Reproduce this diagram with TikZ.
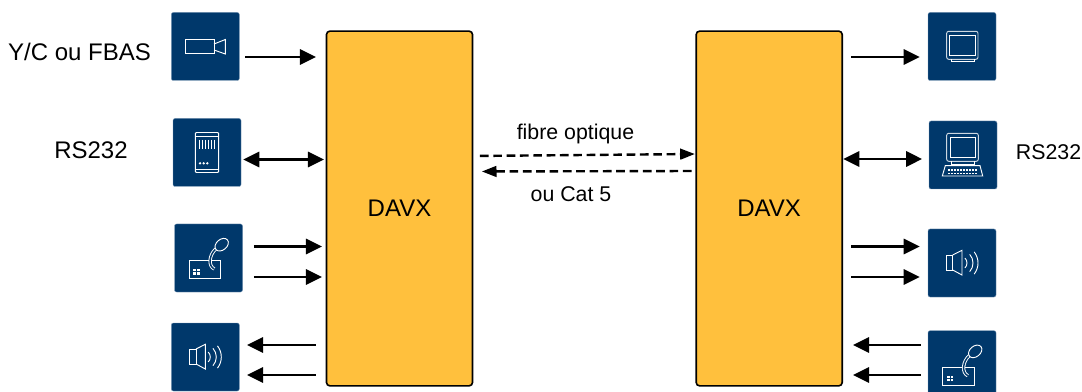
\documentclass[tikz,border=0pt]{standalone}
\usepackage{fontspec}
\setmainfont{Liberation Sans}
\usetikzlibrary{arrows.meta}
\definecolor{davxorange}{RGB}{255,192,61}
\definecolor{icoblue}{RGB}{0,56,107}
\definecolor{icoedge}{RGB}{120,150,180}
\tikzset{
	davxbox/.style={draw=black, line width=1.2pt, fill=davxorange, rounded corners=2.5pt, minimum width=109.5pt, minimum height=266pt, outer sep=0pt, font=\fontsize{18}{20}\selectfont},
	icobox/.style={draw=icoedge, line width=0.3pt, fill=icoblue, rounded corners=1.5pt, minimum size=51pt, outer sep=0pt},
	icoline/.style={draw=white, line width=0.7pt},
	wire/.style={line width=1.7pt, -{Triangle[length=12pt,width=11.5pt]}},
	bothwire/.style={line width=1.7pt, {Triangle[length=12pt,width=11.5pt]}-{Triangle[length=12pt,width=11.5pt]}},
	dashwire/.style={line width=1.8pt, dash pattern=on 6.5pt off 3.5pt, -{Triangle[length=11pt,width=8pt]}},
	biglabel/.style={font=\fontsize{18}{20}\selectfont},
	smalllabel/.style={font=\fontsize{16}{18}\selectfont},
	pics/camera/.style={code={
		\draw[icoline] (-20,-7.5) rectangle (8.7,6.8);
		\draw[icoline] (8.7,-2.5) -- (20,-7) -- (20,7.5) -- (8.7,3.5);
	}},
	pics/rack/.style={code={
		\draw[icoline, rounded corners=0.8pt] (-11.7,-20) rectangle (11.7,20);
		\draw[icoline] (-11.7,-16.5) -- (11.7,-16.5);
		\draw[icoline] (-11.7,17) -- (11.7,17);
		\foreach \x in {-7.5,-4.5,...,7.5} {
			\draw[icoline, line width=0.8pt] (\x,-12.5) -- (\x,-3.2);
		}
		\foreach \x in {-7,-3.3,0.3} {
			\fill[white] (\x,10.8) circle (1.3);
		}
	}},
	pics/micro/.style={code={
		\draw[icoline] (-19.2,2.3) rectangle (12.2,20.7);
		\foreach \x in {-15.2,-11.5} {
			\foreach \y in {11,14.3} {
				\fill[white] (\x,\y) rectangle ++(2.7,2.4);
			}
		}
		\draw[white, line width=0.7pt, double=icoblue, double distance=1.1pt] (7.2,-9) .. controls (0.5,-3) and (-0.5,8) .. (5.8,11);
		\draw[icoline, fill=icoblue, rotate around={40:(13.2,-13.3)}] (13.2,-13.3) ellipse (7.5 and 5.3);
	}},
	pics/speaker/.style={code={
		\draw[icoline] (-16,-8) rectangle (-9.3,7);
		\draw[icoline] (-9.3,-8) -- (0,-12.7) -- (0,12) -- (-9.3,7);
		\foreach \r/\a in {7/45,13/42,18/38} {
			\draw[icoline] (-2,0) ++(-\a:\r) arc (-\a:\a:\r);
		}
	}},
	pics/screen/.style={code={
		\draw[icoline, draw=white!80!icoblue, rounded corners=1.5pt] (-15.3,-15.2) rectangle (16,12.8);
		\draw[icoline] (-12.3,-11.2) rectangle (13,8.8);
		\draw[icoline] (-11,12.8) -- (-11,15.2) -- (12,15.2) -- (12,12.8);
	}},
	pics/computer/.style={code={
		\draw[icoline, draw=white!80!icoblue, rounded corners=1.5pt] (-16.3,-21.7) rectangle (15.3,6.3);
		\draw[icoline] (-13,-17.7) rectangle (12.3,2.3);
		\draw[icoline] (-11.7,6.3) -- (-11.7,9) -- (11,9) -- (11,6.3);
		\draw[icoline] (-17.7,10.7) -- (17,10.7) -- (19.7,21) -- (-20.7,21) -- cycle;
		\foreach \x in {-15.5,-12.5,...,14} {
			\foreach \y in {14,17.7} {
				\fill[white] (\x,\y) rectangle ++(2,1.7);
			}
		}
	}},
}

\begin{document}
\begin{tikzpicture}[x=0.75pt, y=-0.75pt]
	
	\clip (0,0) rectangle (1082,392);
	
	% Draw the two main boxes.
	\node[davxbox] (davxa) at (399.5,208.5) {DAVX};
	\node[davxbox] (davxb) at (769.2,208.5) {DAVX};
	
	% Draw left icons.
	\node[icobox] (camin) at (205.3,46.5) {};
	\node[icobox] (rackin) at (207,152.5) {};
	\node[icobox] (micin) at (208.5,258) {};
	\node[icobox] (spkin) at (205.3,357) {};
	\pic at (camin) {camera};
	\pic at (rackin) {rack};
	\pic at (micin) {micro};
	\pic at (spkin) {speaker};
	
	% Draw right icons.
	\node[icobox] (scrout) at (962,46.5) {};
	\node[icobox] (pcout) at (963,155) {};
	\node[icobox] (spkout) at (962,263) {};
	\node[icobox] (micout) at (962,364.7) {};
	\pic at (scrout) {screen};
	\pic at (pcout) {computer};
	\pic at (spkout) {speaker};
	\pic at (micout) {micro};
	
	% Draw left arrows.
	\draw[wire, shorten <=4.5pt, shorten >=7.9pt] (camin.east |- 0,57) -- (davxa.west |- 0,57);
	\draw[bothwire, shorten <=1.7pt, shorten >=1.9pt] (rackin.east |- 0,159.5) -- (davxa.west |- 0,159.5);
	\foreach \y in {246.5,277} {
		\draw[wire, shorten <=8.6pt, shorten >=3.4pt] (micin.east |- 0,\y) -- (davxa.west |- 0,\y);
	}
	\foreach \y in {345,375} {
		\draw[wire, shorten <=7.9pt, shorten >=5.8pt] (davxa.west |- 0,\y) -- (spkin.east |- 0,\y);
	}
	
	% Draw right arrows.
	\draw[wire, shorten <=6.8pt, shorten >=6.2pt] (davxb.east |- 0,57) -- (scrout.west |- 0,57);
	\draw[bothwire, shorten <=0.8pt, shorten >=5.2pt] (davxb.east |- 0,159) -- (pcout.west |- 0,159);
	\foreach \y in {246.5,277} {
		\draw[wire, shorten <=6.8pt, shorten >=6.2pt] (davxb.east |- 0,\y) -- (spkout.west |- 0,\y);
	}
	\foreach \y in {345,375} {
		\draw[wire, shorten <=5.5pt, shorten >=8.2pt] (micout.west |- 0,\y) -- (davxb.east |- 0,\y);
	}
	
	% Link between the boxes.
	\draw[dashwire, shorten <=5.6pt, shorten >=1pt] (davxa.east |- 0,156) -- (davxb.west |- 0,154);
	\draw[dashwire, shorten <=3.5pt, shorten >=7pt] (davxb.west |- 0,171) -- (davxa.east |- 0,171.5);
	
	% Labels.
	\node[biglabel] (ycin) at (79.5,52) {Y/C ou FBAS};
	\node[biglabel] (rsin) at (91,150) {RS232};
	\node[smalllabel] (rsout) at (1048.5,152) {RS232};
	\node[smalllabel] (fibre) at (575.5,134) {fibre optique};
	\node[smalllabel] (cat) at (571,194) {ou Cat 5};
	
\end{tikzpicture}
\end{document}
